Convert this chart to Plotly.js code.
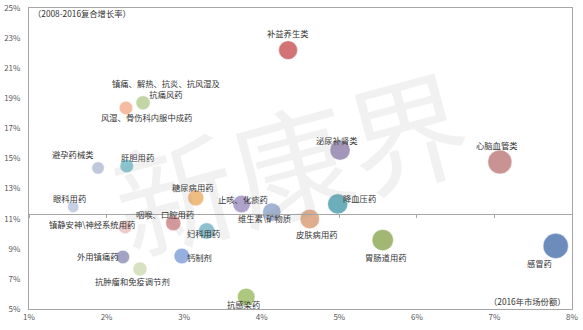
<!DOCTYPE html>
<html>
<head>
<meta charset="utf-8">
<script src="https://cdn.plot.ly/plotly-3.0.1.min.js"></script>
<style>html,body{margin:0;padding:0;background:#fff;}#chart{width:583px;height:330px;}</style>
</head>
<body>
<div id="chart"></div>
<script>
// categories
var categories = [
  "补益养生类",
  "镇痛、解热、抗炎、抗风湿及<br>抗痛风药",
  "风湿、骨伤科内服中成药",
  "避孕药械类",
  "肝胆用药",
  "眼科用药",
  "糖尿病用药",
  "止咳、化痰药",
  "泌尿补肾类",
  "降血压药",
  "维生素\\矿物质",
  "心脑血管类",
  "皮肤病用药",
  "咽喉、口腔用药",
  "镇静安神\\神经系统用药",
  "妇科用药",
  "外用镇痛药",
  "钙制剂",
  "抗肿瘤和免疫调节剂",
  "抗感染药",
  "胃肠道用药",
  "感冒药"
];
// 2016 market share (%)
var marketShare = [4.34, 2.47, 2.25, 1.89, 2.26, 1.57, 3.15, 3.74, 5.01, 4.98, 4.13, 7.07, 4.62, 2.86, 2.24, 3.29, 2.21, 2.97, 2.43, 3.80, 5.56, 7.79];
// 2008-2016 CAGR (%)
var cagr = [22.2, 18.7, 18.36, 14.37, 14.5, 11.78, 12.38, 11.98, 15.56, 11.98, 11.44, 14.77, 10.98, 10.71, 10.45, 10.18, 8.46, 8.52, 7.66, 5.8, 9.58, 9.19];
var averageGrowth = 11.3;
var xTicks = [1, 2, 3, 4, 5, 6, 7, 8];
var yTicks = [5, 7, 9, 11, 13, 15, 17, 19, 21, 23, 25];

// styles (not data)
var colors = ["#C0393B", "#A9C47F", "#F2A07A", "#A7B2CC", "#5AAFBF", "#B0BCD6", "#E9A14E", "#8E7CB8",
  "#7D6B9E", "#2F8C9E", "#7C96C4", "#B46666", "#D38C5C", "#C87072", "#E4B5B5", "#5FA6BA",
  "#7C7CAA", "#6A8ED2", "#C6D7A8", "#8CB04A", "#7C9A3A", "#2F5E9F"];
// label pixel offsets [dx, dy] (screen, dy down)
var labelOffsets = [[0,-17],[23,-14],[21,9],[-25,-14],[11,-9],[-4,-9],[-3,-11],[1,-5],[-3,-10],[22,-6],
  [-7,6],[-3,-17],[7,15],[-8,-9],[-33,-3],[-3,2],[-25,-1],[18,1],[-7,12],[-3,7],[3,17],[-16,17]];

var FONT = "'Noto Sans CJK SC', 'Noto Sans', sans-serif";

var bubbles = {
  type: "scatter",
  mode: "markers",
  x: marketShare,
  y: cagr,
  text: categories,
  hoverinfo: "text",
  marker: {
    size: marketShare,
    sizemode: "area",
    sizeref: 1 / 40.96,
    color: colors,
    line: {color: "rgba(255,255,255,0.5)", width: 1}
  },
  showlegend: false
};
var axisHelper = {
  type: "scatter", mode: "markers",
  x: [xTicks[0], xTicks[xTicks.length - 1]], y: [averageGrowth, averageGrowth],
  xaxis: "x2", yaxis: "y",
  marker: {opacity: 0}, hoverinfo: "skip", showlegend: false
};

var annotations = categories.map(function (c, i) {
  return {
    x: marketShare[i], y: cagr[i], xref: "x", yref: "y",
    text: c, showarrow: false,
    xshift: labelOffsets[i][0], yshift: -labelOffsets[i][1],
    font: {family: FONT, size: 8.3, color: "#333"},
    align: "center"
  };
});
annotations.push({
  xref: "paper", yref: "paper", x: 0.003, y: 0.985, xanchor: "left", yanchor: "middle",
  text: "（2008-2016复合增长率）", showarrow: false,
  font: {family: FONT, size: 8.3, color: "#333"}
});
annotations.push({
  xref: "paper", yref: "paper", x: 0.992, y: 0.025, xanchor: "right", yanchor: "middle",
  text: "（2016年市场份额）", showarrow: false,
  font: {family: FONT, size: 8.3, color: "#333"}
});
// watermark
annotations.push({
  xref: "paper", yref: "paper", x: 0.48, y: 0.5, xanchor: "center", yanchor: "middle",
  text: "新康界", showarrow: false, textangle: -15,
  font: {family: FONT, size: 120, color: "rgba(150,150,150,0.13)"}
});

var layout = {
  width: 583, height: 330,
  margin: {l: 29, r: 11, t: 8, b: 21},
  paper_bgcolor: "#fff", plot_bgcolor: "#fff",
  xaxis: {
    range: [xTicks[0], xTicks[xTicks.length - 1]],
    tickvals: xTicks, ticktext: xTicks.map(function (v) { return v + "%"; }),
    showgrid: false, zeroline: false,
    showline: true, linecolor: "#A6A6A6", linewidth: 1, mirror: true,
    ticks: "", tickfont: {family: FONT, size: 8, color: "#595959"},
    fixedrange: true
  },
  xaxis2: {
    overlaying: "x", anchor: "free", position: (averageGrowth - yTicks[0]) / (yTicks[yTicks.length - 1] - yTicks[0]),
    range: [xTicks[0], xTicks[xTicks.length - 1]], tickvals: xTicks,
    showticklabels: false, showgrid: false, zeroline: false,
    showline: true, linecolor: "#A6A6A6", linewidth: 1,
    ticks: "outside", ticklen: 3, tickcolor: "#A6A6A6"
  },
  yaxis: {
    range: [yTicks[0], yTicks[yTicks.length - 1]],
    tickvals: yTicks, ticktext: yTicks.map(function (v) { return v + "%"; }),
    showgrid: false, zeroline: false,
    showline: true, linecolor: "#A6A6A6", linewidth: 1, mirror: true,
    ticks: "", ticklabelstandoff: 6,
    tickfont: {family: FONT, size: 8, color: "#595959"},
    fixedrange: true
  },
  annotations: annotations
};

Plotly.newPlot("chart", [axisHelper, bubbles], layout, {displayModeBar: false, staticPlot: true});
</script>
</body>
</html>
